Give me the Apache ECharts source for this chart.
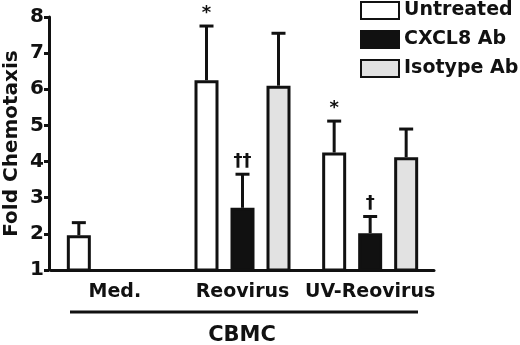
<!DOCTYPE html>
<html>
<head>
<meta charset="utf-8">
<script src="https://cdn.jsdelivr.net/npm/echarts@6/dist/echarts.min.js"></script>
<style>
  html, body { margin: 0; padding: 0; background: #fff; }
  #chart { width: 520px; height: 345px; }
</style>
</head>
<body>
<div id="chart"></div>
<script>
// groups on the x axis
var categories = ['Med.', 'Reovirus', 'UV-Reovirus'];
var seriesNames = ['Untreated', 'CXCL8 Ab', 'Isotype Ab'];

// bar heights (fold chemotaxis)
var untreated = [1.96, 6.25, 4.25];
var cxcl8 = [null, 2.72, 2.02];
var isotype = [null, 6.1, 4.12];

// top of the error bar (mean + SEM)
var untreatedErr = [2.31, 7.75, 5.12];
var cxcl8Err = [null, 3.65, 2.48];
var isotypeErr = [null, 7.55, 4.9];

// significance marks
var untreatedMark = ['', '*', '*'];
var cxcl8Mark = ['', '\u2020\u2020', '\u2020'];
var isotypeMark = ['', '', ''];

var yTicks = [1, 2, 3, 4, 5, 6, 7, 8];

var font = '"DejaVu Sans", sans-serif';
var barW = 24, gapPx = 12;
var colors = ['#ffffff', '#111111', '#e2e2e2'];

var values = [untreated, cxcl8, isotype];
var errs = [untreatedErr, cxcl8Err, isotypeErr];
var marks = [untreatedMark, cxcl8Mark, isotypeMark];

var series = [];
for (var s = 0; s < 3; s++) {
    series.push({
        name: seriesNames[s],
        type: 'bar',
        data: values[s],
        barWidth: barW,
        barGap: (gapPx / barW * 100) + '%',
        itemStyle: { color: colors[s], borderColor: '#111', borderWidth: 3 },
        z: 3
    });
}
// error bars + marks, one custom series per bar series
for (var s = 0; s < 3; s++) {
    (function (k) {
        var data = [];
        for (var i = 0; i < categories.length; i++) {
            if (values[k][i] == null) continue;
            data.push([i, values[k][i], errs[k][i]]);
        }
        series.push({
            type: 'custom',
            data: data,
            z: 2,
            silent: true,
            renderItem: function (params, api) {
                var off = (barW + gapPx) * (k - 1);
                var lo = api.coord([api.value(0), api.value(1)]);
                var hi = api.coord([api.value(0), api.value(2)]);
                var x = lo[0] + off;
                var cap = 7;
                var children = [
                    { type: 'line', shape: { x1: x, y1: lo[1], x2: x, y2: hi[1] },
                      style: { stroke: '#111', lineWidth: 3 } },
                    { type: 'line', shape: { x1: x - cap, y1: hi[1], x2: x + cap, y2: hi[1] },
                      style: { stroke: '#111', lineWidth: 3 } }
                ];
                var m = marks[k][api.value(0)];
                if (m) {
                    children.push({ type: 'text', x: x, y: hi[1] - 13,
                        style: { text: m, font: 'bold 18px ' + font, fill: '#111',
                                 align: 'center', verticalAlign: 'middle' } });
                }
                return { type: 'group', children: children };
            }
        });
    })(s);
}

var option = {
    animation: false,
    backgroundColor: '#fff',
    grid: { left: 51, right: 86, top: 17, bottom: 75, outerBoundsMode: 'none' },
    legend: {
        data: seriesNames,
        orient: 'vertical',
        left: 360,
        top: 1,
        padding: 0,
        itemWidth: 38,
        itemHeight: 17,
        itemGap: 10,
        icon: 'rect',
        textStyle: { fontFamily: font, fontWeight: 'bold', fontSize: 19, color: '#111' }
    },
    xAxis: {
        type: 'category',
        data: categories,
        axisLine: { lineStyle: { color: '#111', width: 3 } },
        axisTick: { alignWithLabel: true, length: 7, lineStyle: { color: '#111', width: 3 } },
        axisLabel: { interval: 0, fontFamily: font, fontWeight: 'bold', fontSize: 19, color: '#111', margin: 13 }
    },
    yAxis: {
        type: 'value',
        min: 1,
        max: 8,
        interval: 1,
        offset: 2,
        name: 'Fold Chemotaxis',
        nameLocation: 'middle',
        nameMoveOverlap: false,
        nameGap: 27,
        nameTextStyle: { fontFamily: font, fontWeight: 'bold', fontSize: 20, color: '#111' },
        axisLine: { show: true, lineStyle: { color: '#111', width: 3 } },
        axisTick: { show: true, length: 5, lineStyle: { color: '#111', width: 3 } },
        splitLine: { show: false },
        axisLabel: {
            fontFamily: font, fontWeight: 'bold', fontSize: 20, color: '#111', margin: 5,
            formatter: function (v) { return yTicks.indexOf(v) >= 0 ? String(v) : ''; }
        }
    },
    graphic: [
        { type: 'line', shape: { x1: 70, y1: 312, x2: 418, y2: 312 },
          style: { stroke: '#111', lineWidth: 3 } },
        { type: 'text', x: 242, y: 336,
          style: { text: 'CBMC', font: 'bold 21px ' + font, fill: '#111',
                   align: 'center', verticalAlign: 'middle' } }
    ],
    series: series
};

var myChart = echarts.init(document.getElementById('chart'));
myChart.setOption(option);
</script>
</body>
</html>
